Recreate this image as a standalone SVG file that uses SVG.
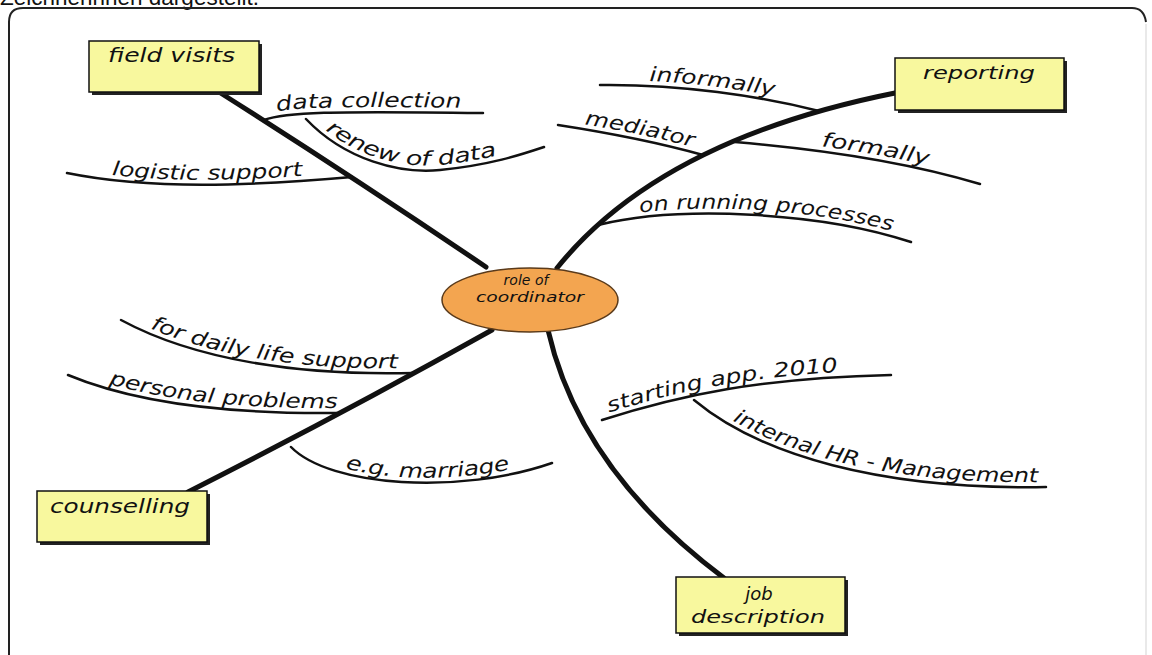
<svg xmlns="http://www.w3.org/2000/svg" width="1152" height="655" viewBox="0 0 1152 655">
  <style>
    .lbl { font-family: "DejaVu Sans", "Liberation Sans", sans-serif; font-style: italic; fill: #111; }
    .stem { fill: none; stroke: #111; stroke-width: 5; stroke-linecap: round; }
    .twig { fill: none; stroke: #111; stroke-width: 2.5; stroke-linecap: round; }
    .box { fill: #f8f89e; stroke: #111; stroke-width: 1.5; }
    .shadow { fill: #222; }
    .hub { fill: #f3a550; stroke: #5a3a1a; stroke-width: 1.5; }
  </style>

  <rect width="1152" height="655" fill="#ffffff"/>

  <!-- caption line running off the top edge -->
  <text x="0" y="5" font-family="Liberation Sans, Arial, sans-serif" font-size="22.5" fill="#111">Zeichnerinnen dargestellt.</text>

  <!-- frame -->
  <path d="M1146,24 L1146,655" fill="none" stroke="#e2e2e2" stroke-width="1.5"/>
  <path d="M9,655 L9,22 Q9,8 23,8 L1132,8 Q1144,8 1146,22" fill="none" stroke="#222" stroke-width="2"/>

  <!-- connectors -->
  <g id="connectors">
    <path class="stem" d="M219,92 Q350,175 486,267"/>
    <path class="stem" d="M895,93 Q660,140 557,268"/>
    <path class="stem" d="M188,492 Q340,415 492,330"/>
    <path class="stem" d="M548,330 Q580,470 724,578"/>

    <path id="b-collect" class="twig" d="M264,120 C285,112 330,111 483,113"/>
    <path id="b-renew" class="twig" d="M306,119 C345,160 400,174 440,170 C490,165 520,155 544,147"/>
    <path id="b-logistic" class="twig" d="M67,173 C150,190 250,186 352,177"/>
    <path id="b-informal" class="twig" d="M600,85 C680,84 760,96 819,111"/>
    <path id="b-mediator" class="twig" d="M558,125 C610,133 660,143 703,155"/>
    <path id="b-formal" class="twig" d="M735,142 C830,150 910,163 980,184"/>
    <path id="b-running" class="twig" d="M598,225 C680,205 820,212 911,242"/>
    <path id="b-daily" class="twig" d="M121,320 C195,360 300,376 414,373"/>
    <path id="b-personal" class="twig" d="M68,375 C140,405 240,414 337,413"/>
    <path id="b-marriage" class="twig" d="M291,447 C330,487 460,495 552,463"/>
    <path id="b-starting" class="twig" d="M602,420 C680,395 760,378 891,375"/>
    <path id="b-hr" class="twig" d="M694,400 C760,455 880,490 1046,487"/>
  </g>

  <!-- branch labels -->
  <g id="branch-labels" class="lbl">
    <text font-size="20" dy="-5"><textPath href="#b-collect" startOffset="14" textLength="184" lengthAdjust="spacingAndGlyphs">data collection</textPath></text>
    <text font-size="20" dy="-5"><textPath href="#b-renew" startOffset="22" textLength="185" lengthAdjust="spacingAndGlyphs">renew of data</textPath></text>
    <text font-size="20" dy="-5"><textPath href="#b-logistic" startOffset="45" textLength="192" lengthAdjust="spacingAndGlyphs">logistic support</textPath></text>
    <text font-size="20" dy="-5"><textPath href="#b-informal" startOffset="49" textLength="125" lengthAdjust="spacingAndGlyphs">informally</textPath></text>
    <text font-size="20" dy="-5"><textPath href="#b-mediator" startOffset="26" textLength="110" lengthAdjust="spacingAndGlyphs">mediator</textPath></text>
    <text font-size="20" dy="-5"><textPath href="#b-formal" startOffset="86" textLength="108" lengthAdjust="spacingAndGlyphs">formally</textPath></text>
    <text font-size="20" dy="-5"><textPath href="#b-running" startOffset="43" textLength="252" lengthAdjust="spacingAndGlyphs">on running processes</textPath></text>
    <text font-size="20" dy="-5"><textPath href="#b-daily" startOffset="30" textLength="255" lengthAdjust="spacingAndGlyphs">for daily life support</textPath></text>
    <text font-size="20" dy="-5"><textPath href="#b-personal" startOffset="42" textLength="232" lengthAdjust="spacingAndGlyphs">personal problems</textPath></text>
    <text font-size="20" dy="-5"><textPath href="#b-marriage" startOffset="60" textLength="168" lengthAdjust="spacingAndGlyphs">e.g. marriage</textPath></text>
    <text font-size="20" dy="-5"><textPath href="#b-starting" startOffset="9" textLength="232" lengthAdjust="spacingAndGlyphs">starting app. 2010</textPath></text>
    <text font-size="20" dy="-5"><textPath href="#b-hr" startOffset="44" textLength="318" lengthAdjust="spacingAndGlyphs">internal HR - Management</textPath></text>
  </g>

  <!-- central node -->
  <g id="node-coordinator">
    <ellipse class="hub" cx="530" cy="300" rx="88" ry="32"/>
    <text class="lbl" x="526" y="285" font-size="14" text-anchor="middle">role of</text>
    <text class="lbl" x="530" y="302" font-size="14" text-anchor="middle" textLength="108" lengthAdjust="spacingAndGlyphs">coordinator</text>
  </g>

  <g id="node-field-visits">
    <rect class="shadow" x="92" y="44" width="170" height="51"/>
    <rect class="box" x="89" y="41" width="170" height="51"/>
    <text class="lbl" x="108" y="62" font-size="19" textLength="127" lengthAdjust="spacingAndGlyphs">field visits</text>
  </g>

  <g id="node-reporting">
    <rect class="shadow" x="898" y="61" width="169" height="52"/>
    <rect class="box" x="895" y="58" width="169" height="52"/>
    <text class="lbl" x="923" y="79" font-size="18" textLength="112" lengthAdjust="spacingAndGlyphs">reporting</text>
  </g>

  <g id="node-counselling">
    <rect class="shadow" x="40" y="494" width="170" height="51"/>
    <rect class="box" x="37" y="491" width="170" height="51"/>
    <text class="lbl" x="50" y="513" font-size="20" textLength="140" lengthAdjust="spacingAndGlyphs">counselling</text>
  </g>

  <g id="node-job-description">
    <rect class="shadow" x="679" y="580" width="169" height="56"/>
    <rect class="box" x="676" y="577" width="169" height="56"/>
    <text class="lbl" x="759" y="600" font-size="18" text-anchor="middle">job</text>
    <text class="lbl" x="758" y="623" font-size="18" text-anchor="middle" textLength="134" lengthAdjust="spacingAndGlyphs">description</text>
  </g>
</svg>
